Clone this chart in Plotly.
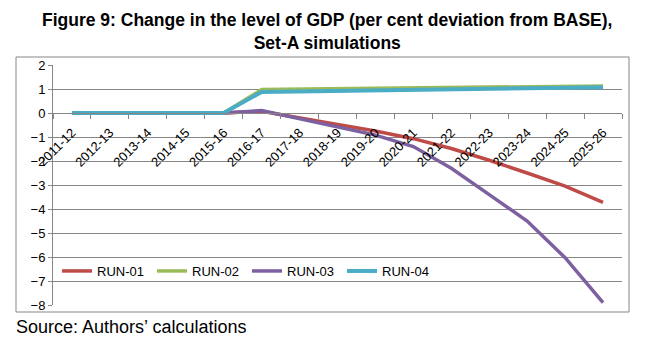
import plotly.graph_objects as go

years = ["2011-12", "2012-13", "2013-14", "2014-15", "2015-16", "2016-17", "2017-18",
         "2018-19", "2019-20", "2020-21", "2021-22", "2022-23", "2023-24", "2024-25", "2025-26"]
run01 = [0, 0, 0, 0, 0, 0.07, -0.19, -0.48, -0.75, -1.07, -1.48, -1.97, -2.5, -3.05, -3.72]
run02 = [0, 0, 0, 0, 0, 0.98, 1.0, 1.01, 1.02, 1.03, 1.05, 1.07, 1.09, 1.11, 1.13]
run03 = [0, 0, 0, 0, 0, 0.1, -0.24, -0.56, -0.92, -1.4, -2.3, -3.4, -4.5, -6.03, -7.9]
run04 = [0, 0, 0, 0, 0, 0.88, 0.9, 0.92, 0.94, 0.96, 0.98, 1.0, 1.02, 1.05, 1.07]

series = [("RUN-01", run01, "#BE4B48"), ("RUN-02", run02, "#9BBB59"),
          ("RUN-03", run03, "#7D60A0"), ("RUN-04", run04, "#4BACC6")]

FONT = "Liberation Sans, Arial, sans-serif"
fig = go.Figure()
for name, vals, col in series:
    fig.add_trace(go.Scatter(x=years, y=vals, name=name, mode="lines",
                             line=dict(color=col, width=4 if name == "RUN-04" else 3.5)))

W, H = 652, 358
L, R, T, B = 53, 30, 65, 53
pw, ph = W - L - R, H - T - B

def px(x):
    return (x - L) / pw

def py(y):
    return (H - B - y) / ph

fig.update_layout(
    width=W, height=H,
    margin=dict(l=L, r=R, t=T, b=B, autoexpand=False),
    paper_bgcolor="white", plot_bgcolor="white",
    font=dict(family=FONT, size=13, color="black"),
    showlegend=True,
    legend=dict(orientation="h", xref="container", yref="container",
                x=57 / W, y=(H - 271) / H, xanchor="left", yanchor="middle",
                bgcolor="rgba(0,0,0,0)", font=dict(size=13, family=FONT),
                entrywidth=50, entrywidthmode="pixels", itemwidth=30),
    xaxis=dict(type="category", anchor="free", position=0.8, showline=True,
               linecolor="#868686", linewidth=1, ticks="outside", ticklen=5,
               tickcolor="#868686", tickson="boundaries", tickangle=-45,
               ticklabelstandoff=6, automargin=False,
               showgrid=False, tickfont=dict(size=13), range=[-0.5, 14.5]),
    yaxis=dict(range=[-8, 2], dtick=1, showgrid=True, gridcolor="#868686", gridwidth=1,
               zeroline=False, showline=True, linecolor="#868686", ticks="outside",
               ticklen=4, tickcolor="#868686", tickfont=dict(size=13), automargin=False),
    shapes=[dict(type="rect", xref="paper", yref="paper", x0=px(16), x1=px(629),
                 y0=py(312), y1=py(57), line=dict(color="#868686", width=1),
                 fillcolor="rgba(0,0,0,0)", layer="below")],
    annotations=[
        dict(text="<b>Figure 9: Change in the level of GDP (per cent deviation from BASE),</b><br><b>Set-A simulations</b>",
             xref="paper", yref="paper", x=px(327), y=py(8), xanchor="center", yanchor="top",
             showarrow=False, font=dict(size=17.5, family=FONT), align="center"),
        dict(text="Source: Authors\u2019 calculations", xref="paper", yref="paper",
             x=px(14), y=py(327), xanchor="left", yanchor="middle", showarrow=False,
             font=dict(size=18, family=FONT)),
    ],
)

fig.write_html("out.html", post_script="document.body.style.margin='0';",
               config={"displayModeBar": False})
